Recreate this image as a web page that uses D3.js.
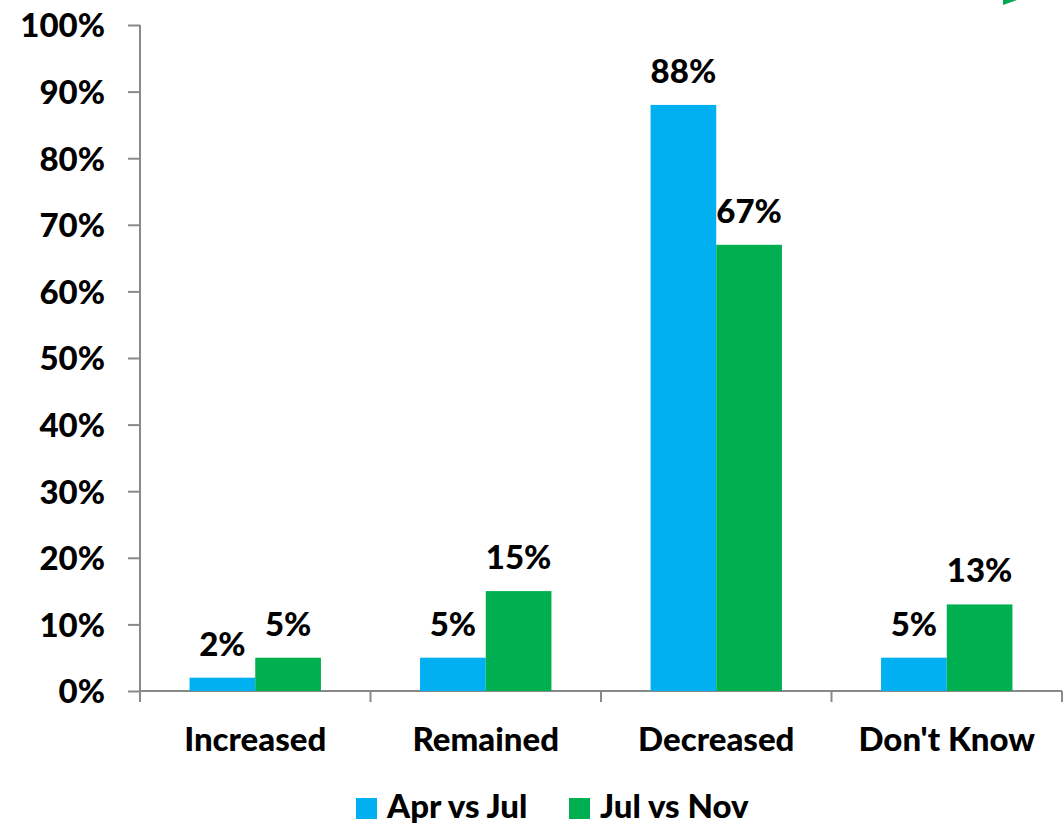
<!DOCTYPE html>
<html>
<head>
<meta charset="utf-8">
<script src="https://cdn.jsdelivr.net/npm/d3@7"></script>
<style>
  html, body { margin: 0; padding: 0; background: #fff; }
  svg { display: block; }
  text { font-family: Lato, "Open Sans", "Liberation Sans", sans-serif; font-weight: 900; fill: #000; }
</style>
</head>
<body>
<svg id="chart" width="1064" height="824"></svg>
<script>
// Survey responses: change in amount between periods
const categories = ["Increased", "Remained", "Decreased", "Don't Know"];
const seriesNames = ["Apr vs Jul", "Jul vs Nov"];
const aprVsJul = [2, 5, 88, 5];
const julVsNov = [5, 15, 67, 13];
const yTicks = [0, 10, 20, 30, 40, 50, 60, 70, 80, 90, 100];
const seriesColors = ["#00B0F0", "#00B050"];

const svg = d3.select("#chart");
const plotLeft = 140, plotRight = 1062, plotTop = 25, plotBottom = 691;
const fontSize = "33px";

const x = d3.scaleBand().domain(categories).range([plotLeft, plotRight]).paddingInner(0).paddingOuter(0);
const y = d3.scaleLinear().domain([0, 100]).range([plotBottom, plotTop]);
const groupFrac = 0.57;
const xs = d3.scaleBand().domain(seriesNames)
  .range([x.bandwidth() * (1 - groupFrac) / 2, x.bandwidth() * (1 + groupFrac) / 2]);

// small corner mark
svg.append("path").attr("d", "M1003,5 L1017,0 L1003,0 Z").attr("fill", "#00A651");

const rows = categories.map((c, i) => ({ cat: c, vals: [aprVsJul[i], julVsNov[i]] }));

// Y axis
const yAxis = svg.append("g").attr("transform", `translate(${plotLeft},0)`)
  .call(d3.axisLeft(y).tickValues(yTicks).tickFormat(d => d + "%").tickSize(12).tickPadding(23));
yAxis.selectAll("path, line").attr("stroke", "#898989").attr("stroke-width", 2);
yAxis.select(".domain").attr("d", `M0,${plotTop}V${plotBottom}`);
yAxis.selectAll("text").style("font-size", fontSize).attr("dy", "0.36em");

// X axis with ticks between categories
const xAxis = svg.append("g").attr("transform", `translate(0,${plotBottom})`);
xAxis.append("line").attr("x1", plotLeft).attr("x2", plotRight).attr("y1", 0).attr("y2", 0)
  .attr("stroke", "#898989").attr("stroke-width", 2);
const boundaries = categories.map(c => x(c)).concat([plotRight]);
xAxis.selectAll("line.tick").data(boundaries).join("line").attr("class", "tick")
  .attr("x1", d => d).attr("x2", d => d).attr("y1", 0).attr("y2", 11)
  .attr("stroke", "#898989").attr("stroke-width", 2);
xAxis.selectAll("text.cat").data(categories).join("text").attr("class", "cat")
  .attr("x", d => x(d) + x.bandwidth() / 2).attr("y", 60)
  .attr("text-anchor", "middle").style("font-size", fontSize).text(d => d);

// Bars and value labels
const groups = svg.selectAll("g.grp").data(rows).join("g").attr("class", "grp")
  .attr("transform", d => `translate(${x(d.cat)},0)`);
groups.selectAll("rect").data(d => d.vals.map((v, j) => ({ s: seriesNames[j], v, j }))).join("rect")
  .attr("x", d => xs(d.s)).attr("width", xs.bandwidth())
  .attr("y", d => y(d.v)).attr("height", d => y(0) - y(d.v))
  .attr("fill", d => seriesColors[d.j]);
groups.selectAll("text.val").data(d => d.vals.map((v, j) => ({ s: seriesNames[j], v, j }))).join("text")
  .attr("class", "val")
  .attr("x", d => xs(d.s) + xs.bandwidth() / 2).attr("y", d => y(d.v) - 22)
  .attr("text-anchor", "middle").style("font-size", fontSize).text(d => d.v + "%");

// Legend
const legendItems = [{ name: seriesNames[0], x: 356 }, { name: seriesNames[1], x: 569 }];
const lg = svg.selectAll("g.leg").data(legendItems).join("g").attr("class", "leg")
  .attr("transform", d => `translate(${d.x},798)`);
lg.append("rect").attr("width", 21).attr("height", 21).attr("fill", (d, i) => seriesColors[i]);
lg.append("text").attr("x", 31).attr("y", 20).style("font-size", fontSize).text(d => d.name);
</script>
</body>
</html>
